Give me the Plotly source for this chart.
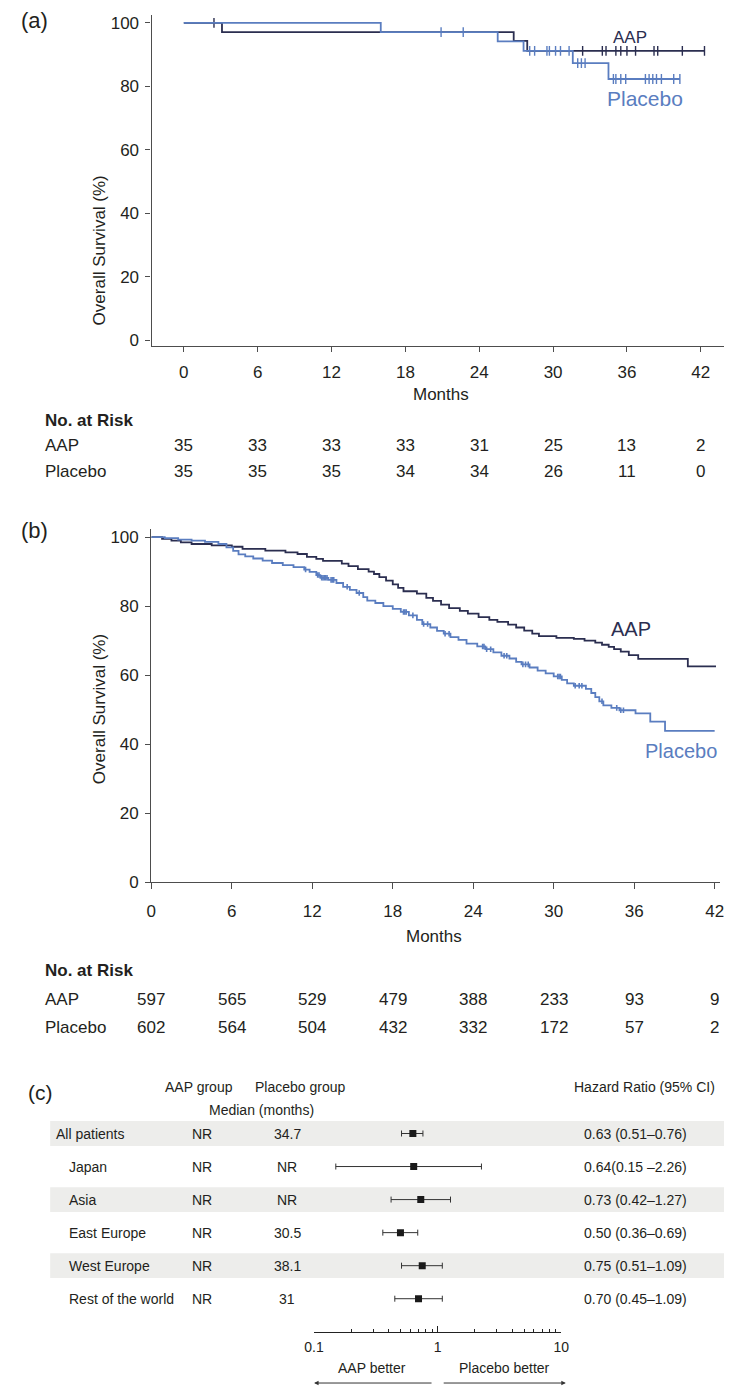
import numpy as np
import plotly.graph_objects as go

W, H = 732, 1387
FONT = "Liberation Sans, Arial, Helvetica, sans-serif"
AAP_COLOR = "#2B2E50"
PBO_COLOR = "#5A7DC0"
AXIS_COLOR = "#4D4D4D"
TEXT_COLOR = "#231F20"

# ---------------- Panel (a) data ----------------
month_ticks = [0, 6, 12, 18, 24, 30, 36, 42]
a_aap_t = [0, 3.1, 26.8, 27.9]
a_aap_s = [100, 97.1, 94.3, 91.2]
a_aap_end = 42.3
a_aap_cens = [2.45, 32.4, 34.0, 34.3, 35.1, 35.5, 36.0, 36.7, 38.2, 38.5, 40.5, 42.3]
a_pbo_t = [0, 16.0, 25.5, 27.6, 31.6, 34.5]
a_pbo_s = [100, 97.1, 94.2, 91.2, 87.3, 82.3]
a_pbo_end = 40.3
a_pbo_cens = [20.9, 22.7, 28.1, 28.5, 29.5, 29.7, 30.2, 30.6, 31.3, 32.0, 32.3, 32.6,
              34.9, 35.1, 35.5, 35.9, 37.5, 37.8, 38.1, 38.4, 38.8, 39.8, 40.3]
a_risk_aap = [35, 33, 33, 33, 31, 25, 13, 2]
a_risk_pbo = [35, 35, 35, 34, 34, 26, 11, 0]

# ---------------- Panel (b) data ----------------
b_aap_t = [0, 0.8, 1.5, 2.2, 3.0, 4.5, 6.0, 6.8, 8.5, 10.0, 10.9, 11.6, 12.3, 12.8, 14.2,
           14.7, 15.4, 16.2, 16.6, 17.0, 17.5, 18.0, 18.4, 18.8, 19.8, 20.5, 21.0, 21.6,
           22.2, 23.0, 23.6, 24.4, 25.2, 25.8, 26.6, 27.2, 27.8, 28.4, 28.9, 30.2, 31.5,
           32.3, 33.1, 33.6, 34.1, 34.5, 35.0, 35.6, 36.3, 40.0]
b_aap_s = [100, 99.5, 99.0, 98.5, 98.0, 97.6, 97.2, 96.6, 96.1, 95.6, 95.1, 94.3, 93.7, 93.1,
           92.3, 91.6, 90.7, 90.0, 89.3, 88.4, 87.4, 86.3, 85.3, 84.3, 83.6, 82.4, 81.5,
           80.4, 79.4, 78.6, 77.8, 76.8, 76.0, 75.4, 74.6, 73.8, 72.9, 72.0, 71.3, 70.8,
           70.5, 70.0, 69.4, 68.8, 68.2, 67.5, 66.8, 65.8, 64.7, 62.5]
b_aap_end = 42.1
b_pbo_t = [0, 1.0, 2.0, 3.0, 4.0, 5.0, 5.6, 6.1, 6.5, 7.0, 7.6, 8.3, 9.0, 9.8, 10.6, 11.4,
           11.8, 12.3, 12.6, 13.2, 13.8, 14.3, 14.8, 15.3, 15.8, 16.1, 16.7, 17.3, 18.0,
           18.6, 19.2, 19.8, 20.2, 20.8, 21.3, 21.8, 22.3, 22.9, 23.5, 24.3, 24.9, 25.5,
           26.1, 26.7, 27.2, 27.6, 28.2, 28.8, 29.4, 30.0, 30.6, 31.0, 31.5, 32.4, 32.8,
           33.1, 33.4, 33.7, 34.3, 34.9, 36.1, 37.2, 38.3]
b_pbo_s = [100, 99.7, 99.3, 99.0, 98.6, 98.0, 97.0, 96.0, 95.0, 94.4, 93.8, 93.2, 92.5,
           91.9, 91.3, 90.6, 89.9, 89.0, 88.2, 87.6, 86.7, 85.6, 84.7, 83.8, 82.6, 81.6,
           80.9, 80.0, 79.2, 78.3, 77.3, 76.0, 74.8, 73.8, 72.8, 72.0, 71.0, 70.2, 69.1,
           68.3, 67.5, 66.6, 65.6, 64.8, 63.8, 63.1, 62.2, 61.3, 60.5, 59.6, 58.6, 57.6,
           56.9, 56.0, 54.8, 53.6, 52.4, 51.2, 50.5, 49.8, 48.9, 46.5, 43.8]
b_pbo_end = 42.0
b_pbo_cens = [11.5, 12.4, 12.5, 12.7, 12.8, 12.9, 13.0, 13.1, 13.4, 13.5, 13.6, 14.6, 15.5,
              18.8, 18.9, 19.0, 19.5, 20.3, 20.6, 21.9, 22.2, 24.7, 24.8, 25.0, 25.3, 26.3,
              26.5, 27.7, 27.9, 28.1, 30.3, 30.4, 30.5, 31.6, 31.9, 32.1, 33.6, 34.7, 35.0,
              35.2]
b_risk_aap = [597, 565, 529, 479, 388, 233, 93, 9]
b_risk_pbo = [602, 564, 504, 432, 332, 172, 57, 2]

# ---------------- Panel (c) data ----------------
subgroups = ["All patients", "Japan", "Asia", "East Europe", "West Europe", "Rest of the world"]
aap_median = ["NR", "NR", "NR", "NR", "NR", "NR"]
pbo_median = ["34.7", "NR", "NR", "30.5", "38.1", "31"]
hr = [0.63, 0.64, 0.73, 0.50, 0.75, 0.70]
hr_lo = [0.51, 0.15, 0.42, 0.36, 0.51, 0.45]
hr_hi = [0.76, 2.26, 1.27, 0.69, 1.09, 1.09]
hr_text = ["0.63 (0.51\u20130.76)", "0.64(0.15 \u20132.26)", "0.73 (0.42\u20131.27)",
           "0.50 (0.36\u20130.69)", "0.75 (0.51\u20131.09)", "0.70 (0.45\u20131.09)"]
forest_ticks = [0.1, 1, 10]
forest_minor = [0.2, 0.3, 0.4, 0.5, 0.6, 0.7, 0.8, 0.9, 2, 3, 4, 5, 6, 7, 8, 9]


def px(xp):
    return xp / W


def py(yp):
    return 1 - yp / H


def step_at(ts, ss, t):
    i = int(np.searchsorted(np.array(ts), t, side="right")) - 1
    return ss[max(i, 0)]


fig = go.Figure()


def km(ts, ss, end, color, xa, ya, name):
    fig.add_trace(go.Scatter(x=list(ts) + [end], y=list(ss) + [ss[-1]], mode="lines",
                             line=dict(color=color, width=1.8, shape="hv"),
                             xaxis=xa, yaxis=ya, name=name, hoverinfo="skip"))


def censor(ts, ss, cens, color, xa, ya, name, size=7, width=1.4):
    fig.add_trace(go.Scatter(x=cens, y=[step_at(ts, ss, c) for c in cens], mode="markers",
                             marker=dict(symbol="line-ns", size=size,
                                         line=dict(width=width, color=color)),
                             xaxis=xa, yaxis=ya, name=name, hoverinfo="skip"))


# panel a
km(a_aap_t, a_aap_s, a_aap_end, AAP_COLOR, "x", "y", "AAP")
censor(a_aap_t, a_aap_s, a_aap_cens, AAP_COLOR, "x", "y", "AAP censored")
km(a_pbo_t, a_pbo_s, a_pbo_end, PBO_COLOR, "x", "y", "Placebo")
censor(a_pbo_t, a_pbo_s, a_pbo_cens, PBO_COLOR, "x", "y", "Placebo censored")

# panel b
km(b_aap_t, b_aap_s, b_aap_end, AAP_COLOR, "x2", "y2", "AAP")
km(b_pbo_t, b_pbo_s, b_pbo_end, PBO_COLOR, "x2", "y2", "Placebo")
censor(b_pbo_t, b_pbo_s, b_pbo_cens, PBO_COLOR, "x2", "y2", "Placebo censored",
       size=4, width=1.6)

# panel c
rows = [-i for i in range(len(subgroups))]
fig.add_trace(go.Scatter(
    x=hr, y=rows, mode="markers",
    marker=dict(symbol="square", size=7, color="#1A1A1A"),
    error_x=dict(type="data", symmetric=False,
                 array=[h - m for h, m in zip(hr_hi, hr)],
                 arrayminus=[m - l for m, l in zip(hr, hr_lo)],
                 color="#333333", thickness=1, width=3),
    xaxis="x3", yaxis="y3", name="HR", hoverinfo="skip"))

axis_common = dict(showgrid=False, zeroline=False, showline=True, linecolor=AXIS_COLOR,
                   linewidth=1.3, ticks="outside", tickcolor=AXIS_COLOR, tickwidth=1.2,
                   tickfont=dict(size=17, color=TEXT_COLOR, family=FONT))

fig.update_layout(
    width=W, height=H, margin=dict(l=0, r=0, t=0, b=0),
    paper_bgcolor="white", plot_bgcolor="white", showlegend=False,
    font=dict(family=FONT, size=17, color=TEXT_COLOR),
    xaxis=dict(domain=[px(137), px(725)], range=[-2.615, 43.98], anchor="y",
               tickvals=month_ticks, ticklen=5, ticklabelstandoff=5, **axis_common),
    yaxis=dict(domain=[py(340), py(6)], range=[-1.97, 102.5], anchor="x",
               tickvals=[0, 20, 40, 60, 80, 100], ticklen=5, ticklabelstandoff=3,
               **axis_common),
    xaxis2=dict(domain=[px(136.7), px(720)], range=[0, 42.42], anchor="y2",
                tickvals=month_ticks, ticklen=6, ticklabelstandoff=7, **axis_common),
    yaxis2=dict(domain=[py(880), py(524)], range=[0, 102.4], anchor="x2",
                tickvals=[0, 20, 40, 60, 80, 100], ticklen=5, ticklabelstandoff=3,
                **axis_common),
    xaxis3=dict(type="log", domain=[px(303.5), px(557)], range=[-1, 1], anchor="y3",
                tickvals=forest_ticks, ticktext=["0.1", "1", "10"], ticks="inside",
                ticklen=6, tickcolor="#222", tickwidth=1, showline=True, linecolor="#222",
                linewidth=1.2, showgrid=False, zeroline=False, ticklabelstandoff=2,
                tickfont=dict(size=14, color=TEXT_COLOR, family=FONT),
                minor=dict(tickvals=forest_minor, ticks="inside", ticklen=3,
                           tickcolor="#222", tickwidth=1, showgrid=False)),
    yaxis3=dict(domain=[py(1334), py(1118)], range=[-6.02, 0.465], anchor="x3",
                visible=False),
)

shapes = []
# gray bands in forest plot
for i in (0, 2, 4):
    shapes.append(dict(type="rect", xref="paper", yref="y3", x0=px(33), x1=1,
                       y0=-i - 0.375, y1=-i + 0.375, fillcolor="#EDEDEB",
                       line=dict(width=0), layer="below"))
# null line
shapes.append(dict(type="line", xref="x3", yref="y3", x0=0, x1=0, y0=-6.02, y1=0.25,
                   line=dict(color="#333333", width=1, dash="dash")))
fig.update_layout(shapes=shapes)

ann = []


def text(x, y, s, size=17, xref="paper", yref="paper", xanchor="center", color=TEXT_COLOR,
         bold=False):
    ann.append(dict(x=x, y=y, xref=xref, yref=yref, text=("<b>%s</b>" % s) if bold else s,
                    showarrow=False, xanchor=xanchor, yanchor="middle",
                    font=dict(size=size, color=color, family=FONT)))


# panel letters
text(px(1), py(12), "(a)", size=22, xanchor="left")
text(px(1), py(526), "(b)", size=22, xanchor="left")
text(px(8), py(1092), "(c)", size=21, xanchor="left")

# y titles
ann.append(dict(x=px(72), y=py(166), xref="paper", yref="paper", text="Overall Survival (%)",
                textangle=-90, showarrow=False, font=dict(size=17, color=TEXT_COLOR, family=FONT)))
ann.append(dict(x=px(72), y=py(706), xref="paper", yref="paper", text="Overall Survival (%)",
                textangle=-90, showarrow=False, font=dict(size=17, color=TEXT_COLOR, family=FONT)))

# x titles
text(px(434), py(389), "Months")
text(px(426), py(935), "Months")

# curve labels
text(px(627), py(29), "AAP", size=17, color=AAP_COLOR)
text(px(643), py(90), "Placebo", size=21, color=PBO_COLOR)
text(px(628), py(625), "AAP", size=20, color=AAP_COLOR)
text(px(680), py(748), "Placebo", size=20, color=PBO_COLOR)

# at-risk tables
text(px(25.7), py(415), "No. at Risk", xanchor="left", bold=True)
text(px(25.7), py(440), "AAP", xanchor="left")
text(px(25.7), py(466.7), "Placebo", xanchor="left")
for m, v1, v2 in zip(month_ticks, a_risk_aap, a_risk_pbo):
    text(m, py(440), str(v1), xref="x")
    text(m, py(466.7), str(v2), xref="x")

text(px(25.7), py(969), "No. at Risk", xanchor="left", bold=True)
text(px(25.7), py(998.3), "AAP", xanchor="left")
text(px(25.7), py(1026.7), "Placebo", xanchor="left")
for m, v1, v2 in zip(month_ticks, b_risk_aap, b_risk_pbo):
    text(m, py(998.3), str(v1), xref="x2")
    text(m, py(1026.7), str(v2), xref="x2")

# forest headers
text(px(186), py(1087), "AAP group", size=14)
text(px(289.5), py(1087), "Placebo group", size=14)
text(px(250), py(1110), "Median (months)", size=14)
text(px(642.8), py(1087), "Hazard Ratio (95% CI)", size=14)

for i, (g, am, pm, ht) in enumerate(zip(subgroups, aap_median, pbo_median, hr_text)):
    yv = -i
    text(px(37.3) if i == 0 else px(50), yv, g, size=14, yref="y3", xanchor="left")
    text(px(189), yv, am, size=14, yref="y3")
    text(px(276), yv, pm, size=14, yref="y3")
    text(px(632.6), yv, ht, size=14, yref="y3")

# direction labels and arrows
text(px(363), py(1370), "AAP better", size=14)
text(px(498.6), py(1370), "Placebo better", size=14)
ann.append(dict(x=px(303.5), y=py(1385), xref="paper", yref="paper", text="",
                showarrow=True, ax=119, ay=0, arrowhead=2, arrowsize=0.9, arrowwidth=1,
                arrowcolor="#333333"))
ann.append(dict(x=px(561.6), y=py(1385), xref="paper", yref="paper", text="",
                showarrow=True, ax=-123.6, ay=0, arrowhead=2, arrowsize=0.9, arrowwidth=1,
                arrowcolor="#333333"))

fig.update_layout(annotations=ann)
fig.write_html("out.html")
